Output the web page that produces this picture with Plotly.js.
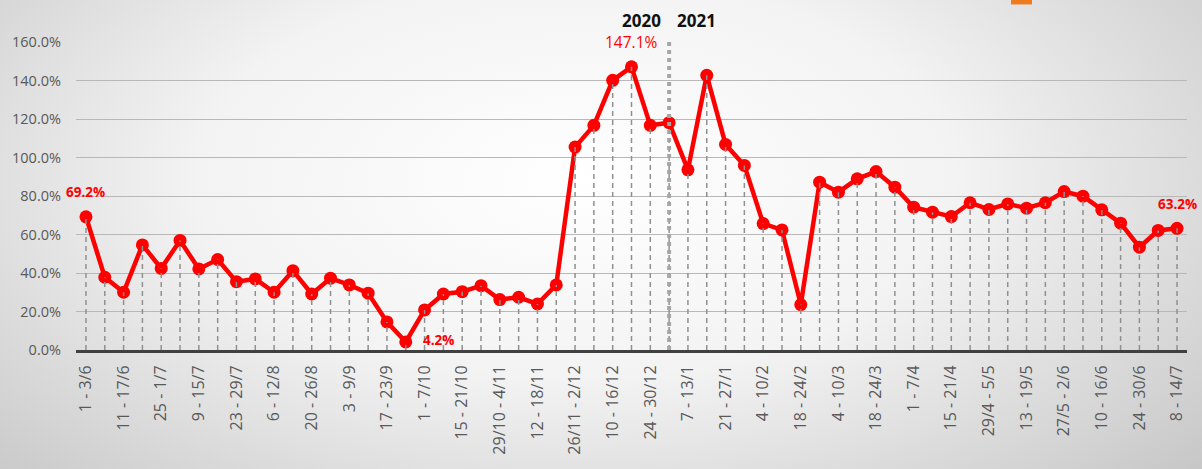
<!DOCTYPE html>
<html>
<head>
<meta charset="utf-8">
<script src="https://cdn.plot.ly/plotly-3.0.1.min.js"></script>
<style>
  html, body { margin: 0; padding: 0; }
  body {
    width: 1202px; height: 469px; overflow: hidden;
    background: radial-gradient(ellipse 70% 95% at 48% 38%, #ffffff 0%, #f3f3f3 45%, #c6c6c6 100%);
  }
  #chart { width: 1202px; height: 469px; }
</style>
</head>
<body>
<div id="chart"></div>
<script>
// weekly periods, June 2020 -> July 2021
var weeks = ["1 - 3/6", "4 - 10/6", "11 - 17/6", "18 - 24/6", "25 - 1/7", "2 - 8/7", "9 - 15/7",
  "16 - 22/7", "23 - 29/7", "30/7 - 5/8", "6 - 12/8", "13 - 19/8", "20 - 26/8", "27/8 - 2/9",
  "3 - 9/9", "10 - 16/9", "17 - 23/9", "24 - 30/9", "1 - 7/10", "8 - 14/10", "15 - 21/10",
  "22 - 28/10", "29/10 - 4/11", "5 - 11/11", "12 - 18/11", "19 - 25/11", "26/11 - 2/12",
  "3 - 9/12", "10 - 16/12", "17 - 23/12", "24 - 30/12", "31/12 - 6/1", "7 - 13/1", "14 - 20/1",
  "21 - 27/1", "28/1 - 3/2", "4 - 10/2", "11 - 17/2", "18 - 24/2", "25/2 - 3/3", "4 - 10/3",
  "11 - 17/3", "18 - 24/3", "25 - 31/3", "1 - 7/4", "8 - 14/4", "15 - 21/4", "22 - 28/4",
  "29/4 - 5/5", "6 - 12/5", "13 - 19/5", "20 - 26/5", "27/5 - 2/6", "3 - 9/6", "10 - 16/6",
  "17 - 23/6", "24 - 30/6", "1 - 7/7", "8 - 14/7"];

var pct = [69.2, 37.8, 30.0, 54.6, 42.4, 56.9, 42.1, 47.0, 35.5, 36.9,
  30.0, 41.2, 29.1, 37.3, 33.8, 29.5, 14.6, 4.2, 20.8, 29.1,
  30.3, 33.4, 26.2, 27.4, 23.9, 33.8, 105.4, 116.7, 140.1, 147.1,
  116.7, 118.1, 93.6, 142.7, 106.8, 95.9, 65.7, 62.4, 23.6, 87.2,
  82.0, 88.9, 92.7, 84.6, 74.2, 71.6, 69.3, 76.5, 73.0, 75.9,
  73.7, 76.5, 82.3, 79.9, 72.8, 65.9, 53.4, 62.1, 63.2];

// only every other week gets a tick label
var shownWeeks = weeks.filter(function(w, i) { return i % 2 === 0; });

// points that carry a value label
var labelled = [0, 17, 29, 58];
var yearSplit = weeks[31];

// drop lines from each point to the axis
var dropX = [], dropY = [];
weeks.forEach(function(w, i) {
  dropX.push(w, w, null);
  dropY.push(0, pct[i], null);
});

var line = {
  x: weeks, y: pct,
  type: "scatter", mode: "lines+markers",
  line: {color: "#ff0000", width: 4.5},
  marker: {color: "#ff0000", size: 13},
  hoverinfo: "x+y"
};

var drops = {
  x: dropX, y: dropY,
  type: "scatter", mode: "lines",
  line: {color: "#909090", width: 1.5, dash: "5px,4px"},
  hoverinfo: "skip"
};

var labelStyle = {
  0: {dx: 0, dy: 25, size: 13.5, bold: true},
  17: {dx: 33, dy: 2, size: 13.5, bold: true},
  29: {dx: 0, dy: 25, size: 15.5, bold: false},
  58: {dx: 0, dy: 24, size: 13.5, bold: true}
};
var annotations = labelled.map(function(i) {
  var s = labelStyle[i];
  var txt = pct[i].toFixed(1) + "%";
  return {
    x: weeks[i], y: pct[i], text: s.bold ? "<b>" + txt + "</b>" : txt,
    showarrow: false, xshift: s.dx, yshift: s.dy,
    font: {family: "Open Sans, sans-serif", size: s.size, color: "#ff0000"}
  };
});
annotations.push(
  {x: yearSplit, y: 1.071, yref: "paper", xanchor: "right", yanchor: "middle", xshift: -6,
   text: "<b>2020</b>", showarrow: false,
   font: {family: "Open Sans, sans-serif", size: 17, color: "#111"}},
  {x: yearSplit, y: 1.071, yref: "paper", xanchor: "left", yanchor: "middle", xshift: 6,
   text: "<b>2021</b>", showarrow: false,
   font: {family: "Open Sans, sans-serif", size: 17, color: "#111"}}
);

var layout = {
  width: 1202, height: 469,
  margin: {l: 76, r: 15, t: 42, b: 119},
  paper_bgcolor: "rgba(0,0,0,0)",
  plot_bgcolor: "rgba(0,0,0,0)",
  showlegend: false,
  font: {family: "Open Sans, sans-serif", color: "#595959", size: 13},
  xaxis: {
    type: "category",
    range: [-0.53, 58.53],
    tickvals: shownWeeks,
    ticktext: shownWeeks,
    tickangle: -90,
    showgrid: false,
    showline: true, linecolor: "#404040", linewidth: 3,
    ticks: "",
    ticklabelstandoff: 6,
    tickfont: {size: 16, color: "#595959"}
  },
  yaxis: {
    range: [0, 160],
    dtick: 20,
    tickformat: ".1f",
    ticksuffix: "%",
    gridcolor: "#b8b8b8",
    gridwidth: 1,
    zeroline: false,
    showline: false,
    ticks: "",
    ticklabelstandoff: 14,
    tickfont: {size: 14.5, color: "#595959"}
  },
  shapes: [
    {type: "line", xref: "x", yref: "y", x0: yearSplit, x1: yearSplit, y0: 0, y1: 165,
     line: {color: "#a6a6a6", width: 4, dash: "4px,4px"}},
    {type: "rect", xref: "paper", yref: "paper", x0: 0.8416, x1: 0.8605, y0: 1.122, y1: 1.14,
     fillcolor: "#f07b1d", line: {width: 0}}
  ],
  annotations: annotations
};

Plotly.newPlot("chart", [line, drops], layout, {displayModeBar: false});
</script>
</body>
</html>
